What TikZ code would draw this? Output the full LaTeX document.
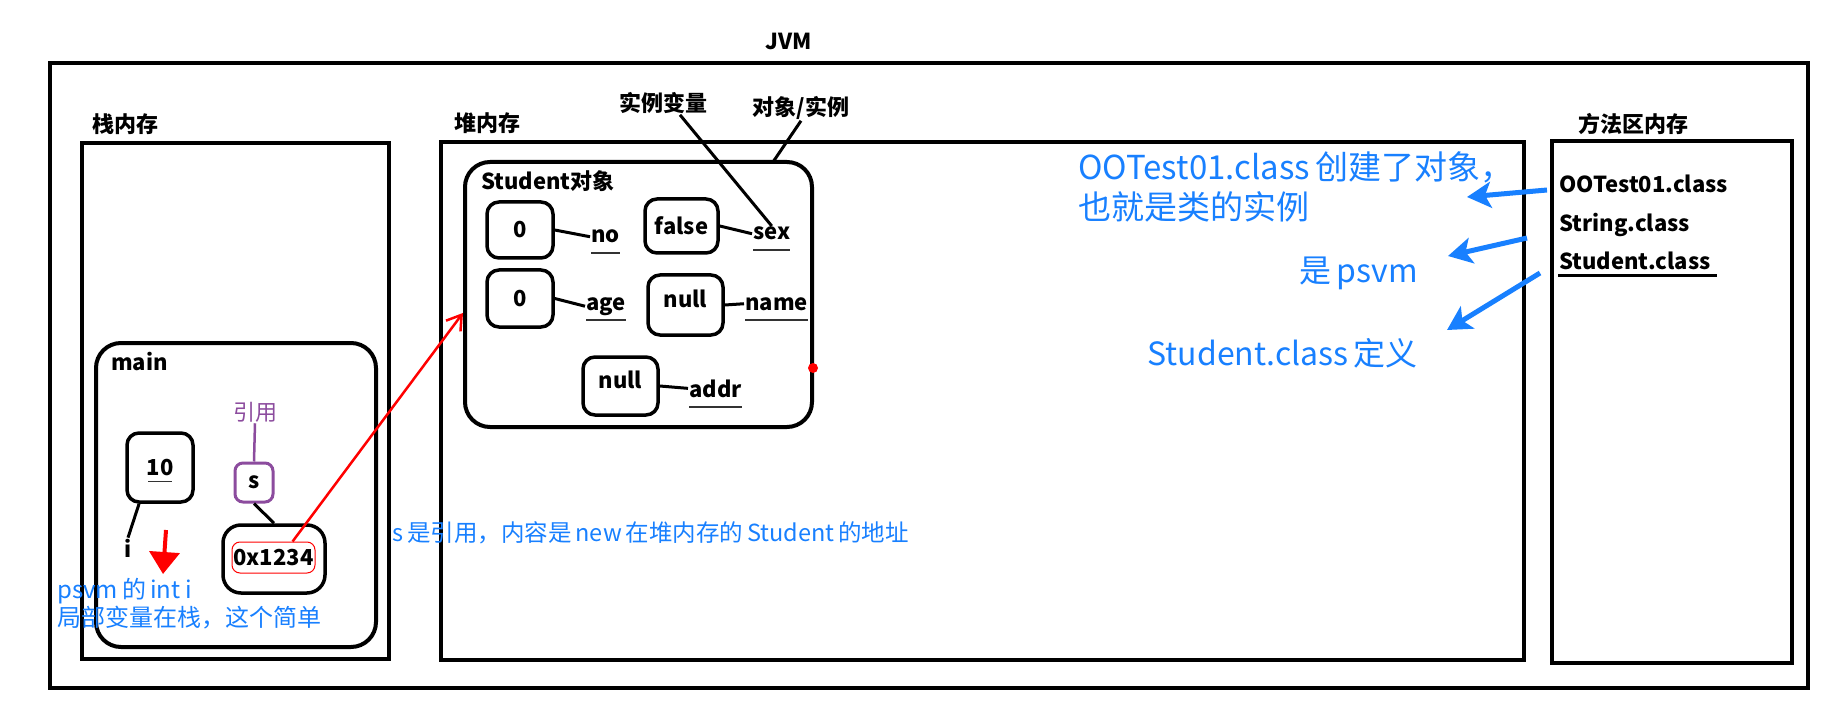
\documentclass[tikz,border=0pt]{standalone}
\usepackage{fontspec}
\setmainfont{Noto Sans CJK SC}
\usetikzlibrary{arrows.meta,calc,positioning}
\definecolor{noteblue}{RGB}{24,128,255}
\definecolor{refpurple}{RGB}{140,76,158}
\begin{document}
\begin{tikzpicture}[x=1pt,y=-1pt,
  frame/.style={draw, line width=4pt, inner sep=0pt},
  zone/.style={draw, line width=4pt, rounded corners=25pt, inner sep=0pt},
  cell/.style={draw, line width=3.5pt, rounded corners=12pt, inner sep=0pt, font=\bfseries\fontsize{22}{26}\selectfont},
  title/.style={font=\bfseries\fontsize{22}{26}\selectfont, inner sep=1pt},
  field/.style={font=\bfseries\fontsize{22}{26}\selectfont, inner sep=1pt, anchor=base west},
  link/.style={line width=3pt},
  uline/.style={line width=1.5pt, black!80},
  note/.style={text=noteblue, inner sep=0pt, align=left},
  hint/.style={noteblue, line width=5pt, -{Stealth[length=24pt,width=26pt,inset=6pt]}}]
\useasboundingbox (0,0) rectangle (1831,703);
\fill[white] (0,0) rectangle (1831,703);
% memory areas
\node[frame, minimum width=1758, minimum height=625] (jvm) at (929,375.5) {};
\node[title] (jvmlbl) at (789,41) {JVM};
\node[frame, minimum width=307, minimum height=516] (stack) at (235.5,401) {};
\node[title, anchor=base west] (stacklbl) at (91,133) {栈内存};
\node[frame, minimum width=1083, minimum height=518] (heap) at (982.5,401) {};
\node[title, anchor=base west] (heaplbl) at (453,132) {堆内存};
\node[frame, minimum width=240, minimum height=522] (method) at (1672,402) {};
\node[title, anchor=base west] (methodlbl) at (1577,133) {方法区内存};
% main frame
\node[zone, minimum width=280, minimum height=304] (mainf) at (236,495) {};
\node[title, anchor=west] (mainlbl) at (110,362) {main};
\node[cell, minimum width=66, minimum height=69] (ibox) at (160,467.5) {10};
\node[title] (ilbl) at (128,548) {i};
\node[font=\fontsize{22}{26}\selectfont, text=refpurple, inner sep=1pt] (reflbl) at (255,412) {引用};
\node[cell, draw=refpurple, line width=3pt, rounded corners=8pt, minimum width=38, minimum height=39] (sbox) at (254,482.5) {s};
\node[cell, rounded corners=18pt, minimum width=102, minimum height=68] (pbox) at (274,559) {};
\node[draw=red, line width=1pt, rounded corners=8pt, minimum width=83, minimum height=31, inner sep=0pt, font=\bfseries\fontsize{22}{26}\selectfont] (pval) at (273.5,557.5) {0x1234};
\coordinate (dropA) at (166,530);
\coordinate (dropB) at (163,574);
% student object
\node[zone, minimum width=347, minimum height=265] (student) at (638.5,294.5) {};
\node[title, anchor=base west] (studentlbl) at (480,190) {Student对象};
\node[cell, minimum width=66, minimum height=56] (nobox) at (520,230) {0};
\node[cell, minimum width=73, minimum height=54] (sexbox) at (681.5,226) {false};
\node[cell, minimum width=66, minimum height=57] (agebox) at (520,298.5) {0};
\node[cell, minimum width=75, minimum height=60, text depth=12pt] (namebox) at (685.5,305) {null};
\node[cell, minimum width=75, minimum height=58, text depth=12pt] (addrbox) at (620.5,386) {null};
\node[field] (nolbl) at (590,243) {no};
\node[field] (sexlbl) at (752,240) {sex};
\node[field] (agelbl) at (585,310) {age};
\node[field] (namelbl) at (744,310) {name};
\node[field] (addrlbl) at (688,397) {addr};
\node[title] (varlbl) at (663,103) {实例变量};
\node[title] (objlbl) at (801,108) {对象/实例};
\coordinate (objpt) at (773,162);
\node[circle, fill=red, inner sep=0pt, minimum size=10] (dot) at (813,368) {};
% method area
\node[title, anchor=base west] (ooc) at (1558,193) {OOTest01.class};
\node[title, anchor=base west] (strc) at (1558,232) {String.class};
\node[title, anchor=base west] (stuc) at (1558,270) {Student.class};
\coordinate (tailA) at (1547,190);
\coordinate (tipA) at (1467,197);
\coordinate (tailB) at (1527,238);
\coordinate (tipB) at (1448,256);
\coordinate (tailC) at (1540,273);
\coordinate (tipC) at (1447,330);
% notes
\node[note, anchor=base west, font=\fontsize{33}{40}\selectfont] (oonote) at (1078,220) {OOTest01.class\,创建了对象，\\也就是类的实例};
\node[note, anchor=base east, font=\fontsize{32}{40}\selectfont] (psnote) at (1418,283) {是\,psvm};
\node[note, anchor=base east, font=\fontsize{32}{40}\selectfont] (stunote) at (1418,365) {Student.class\,定义};
\node[note, anchor=base west, font=\fontsize{23.5}{28}\selectfont] (snote) at (392,541) {s\,是引用，内容是\,new\,在堆内存的\,Student\,的地址};
\node[note, anchor=base west, font=\fontsize{24}{28}\selectfont] (inote) at (57,626) {psvm\,的\,int i\\局部变量在栈，这个简单};
% connectors
\draw[link] (nobox.east) -- (nolbl.west);
\draw[link] (sexbox.east) -- (sexlbl.west);
\draw[link] (agebox.east) -- (agelbl.west);
\draw[link] (namebox.east) -- (namelbl.west);
\draw[link] (addrbox.east) -- (addrlbl.west);
\draw[link] ($(varlbl.south)+(17,0)$) -- (sexlbl.north);
\draw[link] (objlbl.south) -- (objpt);
\foreach \f in {nolbl,sexlbl,agelbl,namelbl,addrlbl}
  \draw[uline] ($(\f.base west)+(1,10)$) -- ($(\f.base east)+(-1,10)$);
\draw[uline] ($(ibox.center)+(-12,14)$) -- ++(24,0);
\draw[line width=3pt] ($(stuc.base west)+(0,6)$) -- ++(159,0);
\draw[link] (ibox.240) -- (ilbl.north);
\draw[refpurple, line width=2.5pt] (reflbl.south) -- (sbox.north);
\draw[link] (sbox.south) -- (pbox.north);
\draw[red, line width=2.5pt, -{Straight Barb[length=14pt,width=18pt]}] (pval.40) -- (student.186);
\draw[red, line width=4pt, -{Triangle[length=22pt,width=30pt]}] (dropA) -- (dropB);
\draw[hint] (tailA) -- (tipA);
\draw[hint] (tailB) -- (tipB);
\draw[hint] (tailC) -- (tipC);
\end{tikzpicture}
\end{document}
